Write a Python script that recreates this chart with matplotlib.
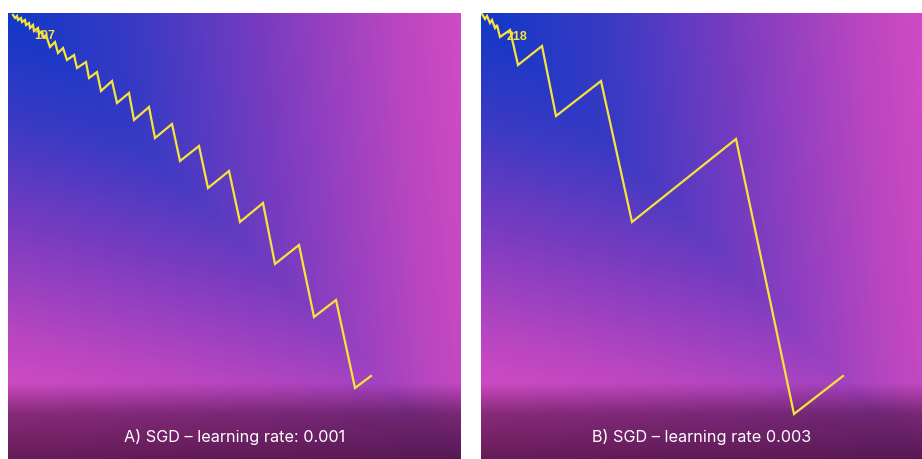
import matplotlib.pyplot as plt
import numpy as np
from matplotlib.colors import LinearSegmentedColormap

# path of SGD in parameter space (0..100 across each panel, y grows downwards)
path_a_px = [13, 15, 17, 18, 21, 22, 25, 26, 29, 30, 33, 34, 38, 39, 42, 43, 46,
             50, 55, 58, 63, 67, 74, 77, 86, 89, 97, 101, 112, 117, 129, 134, 149,
             155, 172, 180, 199, 208, 229, 240, 263, 275, 299, 314, 336, 355, 371]
path_a_py = [15, 18, 16, 20, 18, 22, 20, 25, 23, 28, 25, 31, 28, 34, 31, 38, 35,
             47, 42, 53, 48, 60, 55, 68, 62, 78, 72, 91, 81, 103, 93, 120, 107,
             138, 124, 161, 146, 188, 171, 222, 203, 264, 245, 317, 300, 388, 376]
path_b_px = [482, 485, 487, 490, 492, 495, 497, 500, 510, 518, 542, 556, 601, 632, 736, 794, 843]
path_b_py = [14, 19, 16, 23, 20, 28, 25, 37, 30, 65, 46, 116, 81, 222, 139, 414, 376]

label_a = "107"
label_b = "218"
caption_a = "A) SGD – learning rate: 0.001"
caption_b = "B) SGD – learning rate 0.003"

W, H = 922, 459
fig = plt.figure(figsize=(W / 100, H / 100), dpi=100)
fig.patch.set_facecolor("white")

cmap = LinearSegmentedColormap.from_list(
    "loss", ["#1238c8", "#3a3ac4", "#7a3cc0", "#b846c0", "#e64fc8"])

n = 300
u, v = np.meshgrid(np.linspace(0, 1, n), np.linspace(0, 1, n))
loss = 0.8 * (u + v) / 2 + 0.56 * np.abs(u - v) + 0.08 * (v - u)
loss = np.clip(loss, 0, 1)

# dark band at the bottom for the caption
shade = np.zeros((n, 1, 4))
shade[:, 0, 0] = 0.12
shade[:, 0, 2] = 0.1
vv = np.linspace(0, 1, n)
shade[:, 0, 3] = np.interp(vv, [0, 0.83, 0.9, 1.0], [0, 0, 0.45, 0.65])


def panel(x0, width, xs, ys):
    ax = fig.add_axes([x0 / W, 0, width / W, 446 / H])
    ax.imshow(loss, cmap=cmap, vmin=0, vmax=1, extent=[0, 100, 100, 0],
              aspect="auto", interpolation="bilinear")
    ax.imshow(shade, extent=[0, 100, 100, 0], aspect="auto",
              interpolation="bilinear")
    px = (np.array(xs) - x0) / width * 100
    py = (np.array(ys) - 13) / 446 * 100
    ax.plot(px, py, color="#f7e43a", linewidth=1.6, solid_joinstyle="miter")
    ax.set_xlim(0, 100)
    ax.set_ylim(100, 0)
    ax.axis("off")
    return ax


ax1 = panel(8, 453, path_a_px, path_a_py)
ax1.text(8.0, 5.2, label_a, color="#f7e43a", fontsize=9, fontweight="bold",
         family="Liberation Sans", ha="center", va="center")
ax1.text(50, 95.1, caption_a, color="white", fontsize=11.7, family="Inter",
         ha="center", va="center")

ax2 = panel(481, 441, path_b_px, path_b_py)
ax2.text(8.2, 5.3, label_b, color="#f7e43a", fontsize=9, fontweight="bold",
         family="Liberation Sans", ha="center", va="center")
ax2.text(50, 95.1, caption_b, color="white", fontsize=11.7, family="Inter",
         ha="center", va="center")

fig.savefig("out.png", dpi=100)
